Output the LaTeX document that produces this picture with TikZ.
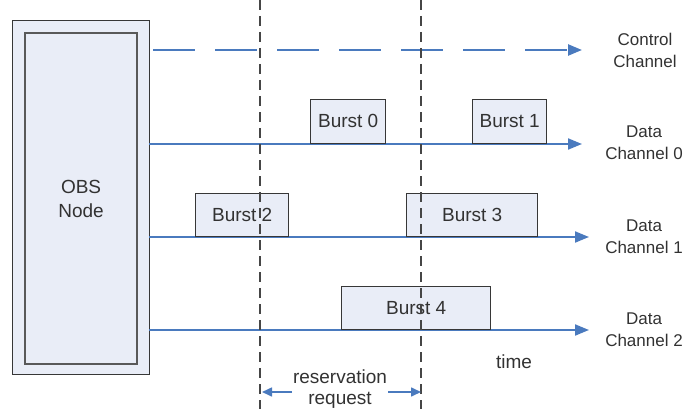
\documentclass[tikz,border=0pt]{standalone}
\usepackage{fontspec}
\setmainfont{Liberation Sans}
\usetikzlibrary{arrows.meta}
\definecolor{lineblue}{RGB}{74,122,190}
\definecolor{boxfill}{RGB}{233,237,247}
\definecolor{boxedge}{RGB}{55,55,55}
\definecolor{txt}{RGB}{50,50,50}
\definecolor{vgrey}{RGB}{70,70,70}
\tikzset{
  chan/.style={draw=lineblue, line width=2pt, -{Triangle[length=14pt,width=11pt]}},
  burstbox/.style={draw=boxedge, line width=1.4pt, fill=boxfill, text=txt,
    font=\fontsize{19}{22}\selectfont, inner sep=0pt, anchor=south west},
  chanlabel/.style={text=txt, font=\fontsize{17}{22}\selectfont, align=center, inner sep=0pt},
  plainlabel/.style={text=txt, font=\fontsize{19}{21}\selectfont, align=center, inner sep=0pt},
  vline/.style={draw=vgrey, line width=1.8pt, dash pattern=on 10pt off 6pt},
  resarrow/.style={draw=lineblue, line width=1.6pt, -{Triangle[length=10pt,width=9pt]}}
}
\begin{document}
\begin{tikzpicture}[x=1pt,y=-1pt]
\useasboundingbox (0,0) rectangle (695,409);
% OBS node
\node[draw=boxedge, line width=1.4pt, fill=boxfill, minimum width=137pt, minimum height=354pt,
  inner sep=0pt, anchor=north west] (obs) at (12,20) {};
\node[draw=vgrey!90, line width=2.2pt, fill=boxfill, minimum width=112pt, minimum height=331pt,
  inner sep=0pt, anchor=north west, text=txt, font=\fontsize{19}{24}\selectfont, align=center]
  (obsin) at (24,32) {OBS\\Node};
% channel end coordinates
\coordinate (c0s) at (149,50);  \coordinate (c0e) at (582,50);
\coordinate (d0s) at (149,144); \coordinate (d0e) at (582,144);
\coordinate (d1s) at (149,237); \coordinate (d1e) at (589,237);
\coordinate (d2s) at (149,330); \coordinate (d2e) at (589,330);
% channels
\draw[chan, line width=2.4pt, dash pattern=on 42pt off 20pt, dash phase=58pt] (c0s) -- (c0e);
\draw[chan] (d0s) -- (d0e);
\draw[chan] (d1s) -- (d1e);
\draw[chan] (d2s) -- (d2e);
% bursts
\node[burstbox, minimum width=75pt, minimum height=44pt] (b0) at (310,144) {Burst 0};
\node[burstbox, minimum width=74pt, minimum height=44pt] (b1) at (472,144) {Burst 1};
\node[burstbox, minimum width=93pt, minimum height=43pt] (b2) at (195,237) {Burst 2};
\node[burstbox, minimum width=131pt, minimum height=43pt] (b3) at (406,237) {Burst 3};
\node[burstbox, minimum width=149pt, minimum height=43pt] (b4) at (341,330) {Burst 4};
% vertical dashed lines
\coordinate (v1t) at (260,0); \coordinate (v1b) at (260,409);
\coordinate (v2t) at (421,0); \coordinate (v2b) at (421,409);
\draw[vline] (v1t) -- (v1b);
\draw[vline] (v2t) -- (v2b);
% labels
\node[chanlabel] (lc) at (645,50) {Control\\Channel};
\node[chanlabel] (l0) at (644,143) {Data\\Channel 0};
\node[chanlabel] (l1) at (644,237) {Data\\Channel 1};
\node[chanlabel] (l2) at (644,330) {Data\\Channel 2};
\node[plainlabel] (time) at (514,362) {time};
\node[plainlabel] (res) at (340,389) {reservation\\request};
% reservation arrows
\coordinate (ral) at (262,392); \coordinate (rar) at (421,392);
\coordinate (rsl) at (292,392); \coordinate (rsr) at (388,392);
\draw[resarrow] (rsl) -- (ral);
\draw[resarrow] (rsr) -- (rar);
\end{tikzpicture}
\end{document}
